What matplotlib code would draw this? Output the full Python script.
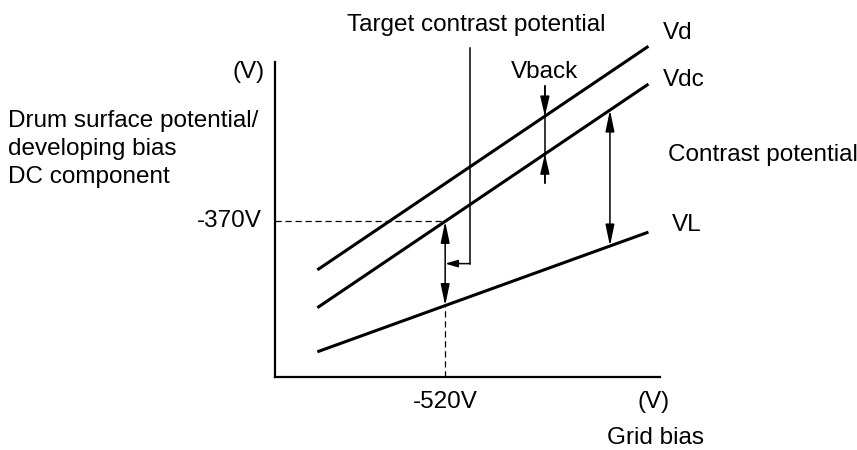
import numpy as np
import matplotlib.pyplot as plt

plt.rcParams['font.family'] = ['Liberation Sans', 'DejaVu Sans']
plt.rcParams['font.size'] = 17.5

# grid bias (x) and potential (y) in arbitrary units, axes run 0..100
x_ends = [11, 97]
vd = [34, 105]
vdc = [22, 93]
vl = [8, 46]

x_target = 44.2      # grid bias -520V
x_target_line = 50.6  # vertical leader of "Target contrast potential"
y_target_top = 104.4
y_elbow = 36
x_vback = 70.1
vback_tails = [92.4, 61.6]
x_contrast = 87.0


def at(line, x):
    return np.interp(x, x_ends, line)


fig = plt.figure(figsize=(8.57, 4.5), dpi=100)
ax = fig.add_axes([275 / 857, 73 / 450, 385 / 857, 315 / 450])
ax.set_xlim(0, 100)
ax.set_ylim(0, 100)
ax.set_xticks([])
ax.set_yticks([])
for s in ['top', 'right']:
    ax.spines[s].set_visible(False)
for s in ['left', 'bottom']:
    ax.spines[s].set_linewidth(1.6)

# potential lines
for line in [vd, vdc, vl]:
    ax.plot(x_ends, line, color='black', lw=2.2, solid_capstyle='butt', clip_on=False)

y370 = at(vdc, x_target)
ylow = at(vl, x_target)

# dashed guides
ax.plot([0, x_target], [y370, y370], color='black', lw=0.9, ls=(0, (5, 3)))
ax.plot([x_target, x_target], [0, ylow], color='black', lw=0.9, ls=(0, (5, 3)))

arrow = dict(arrowstyle='<|-|>,head_length=1.3,head_width=0.27', mutation_scale=10,
             color='black', lw=1.1, shrinkA=0, shrinkB=0)
one_way = dict(arrow, arrowstyle='-|>,head_length=1.2,head_width=0.28')
small = dict(arrow, arrowstyle='-|>,head_length=0.75,head_width=0.22')

# contrast at -520V
ax.annotate('', xy=(x_target, y370), xytext=(x_target, ylow), arrowprops=arrow)
# contrast potential
ax.annotate('', xy=(x_contrast, at(vdc, x_contrast)), xytext=(x_contrast, at(vl, x_contrast)),
            arrowprops=arrow, annotation_clip=False)

# target contrast leader
ax.plot([x_target_line, x_target_line], [y_target_top, y_elbow], color='black', lw=1.1,
        clip_on=False)
ax.annotate('', xy=(x_target, y_elbow), xytext=(x_target_line, y_elbow), arrowprops=small)

# Vback
ax.plot([x_vback, x_vback], vback_tails, color='black', lw=1.1)
ax.annotate('', xy=(x_vback, at(vd, x_vback)), xytext=(x_vback, vback_tails[0]),
            arrowprops=one_way)
ax.annotate('', xy=(x_vback, at(vdc, x_vback)), xytext=(x_vback, vback_tails[1]),
            arrowprops=one_way)

kw = dict(clip_on=False, va='center')
ax.text(52.2, 111.8, 'Target contrast potential', ha='center', **kw)
ax.text(100.8, 109.2, 'Vd', ha='left', **kw)
ax.text(100.8, 94.3, 'Vdc', ha='left', **kw)
ax.text(103.1, 48.3, 'VL', ha='left', **kw)
ax.text(102.1, 70.5, 'Contrast potential', ha='left', **kw)
ax.text(x_vback, 96.8, 'Vback', ha='center', **kw)
ax.text(-2.6, 96.8, '(V)', ha='right', **kw)
ax.text(-69.4, 72.5, 'Drum surface potential/\ndeveloping bias\nDC component',
        ha='left', linespacing=1.35, **kw)
ax.text(-3.4, y370, '-370V', ha='right', **kw)
ax.text(x_target, -7.9, '-520V', ha='center', **kw)
ax.text(98.2, -7.9, '(V)', ha='center', **kw)
ax.text(86.2, -19.4, 'Grid bias', ha='left', **kw)

fig.savefig('out.png', dpi=100)
